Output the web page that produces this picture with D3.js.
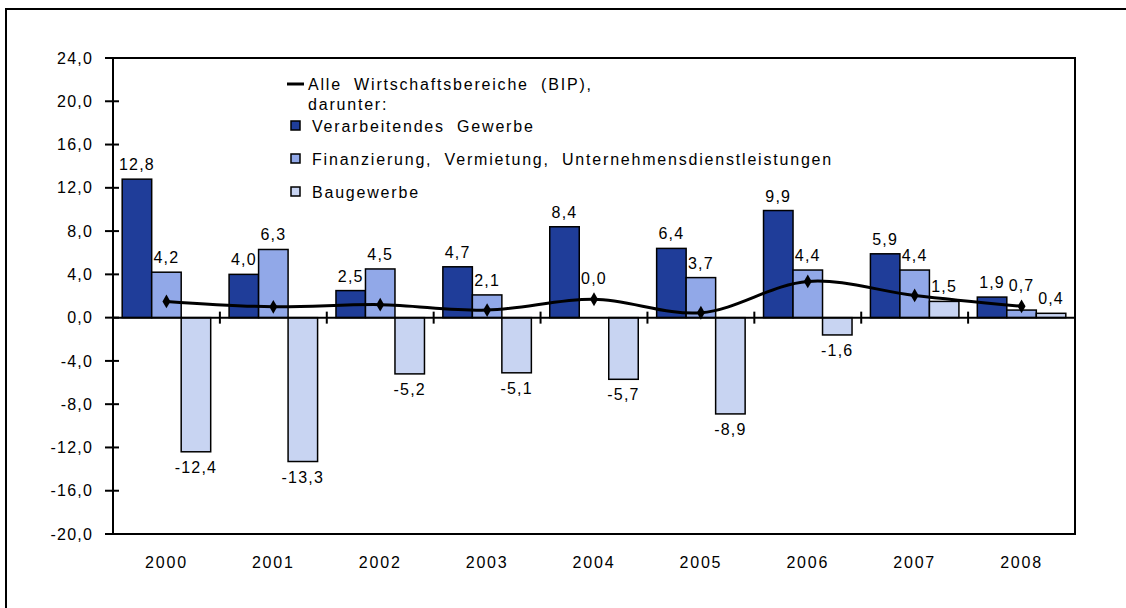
<!DOCTYPE html>
<html>
<head>
<meta charset="utf-8">
<script src="https://cdn.jsdelivr.net/npm/d3@7"></script>
<style>
  body { margin: 0; background: #fff; }
  svg { display: block; font-family: "Liberation Sans", Arial, sans-serif; }
  text { font-size: 16px; fill: #000; letter-spacing: 1.2px; }
  .legend text { letter-spacing: 1.8px; word-spacing: 6px; }
  .xlab text { letter-spacing: 1.8px; }
</style>
</head>
<body>
<svg id="chart" width="1126" height="608"></svg>
<script>
  var years = ['2000', '2001', '2002', '2003', '2004', '2005', '2006', '2007', '2008'];

  var verarbeitend = [12.8, 4.0, 2.5, 4.7, 8.4, 6.4, 9.9, 5.9, 1.9],
      finanzierung = [4.2, 6.3, 4.5, 2.1, 0.0, 3.7, 4.4, 4.4, 0.7],
      baugewerbe = [-12.4, -13.3, -5.2, -5.1, -5.7, -8.9, -1.6, 1.5, 0.4],
      bip = [1.5, 1.0, 1.2, 0.7, 1.7, 0.45, 3.35, 2.05, 1.05];

  var yTicks = [24, 20, 16, 12, 8, 4, 0, -4, -8, -12, -16, -20];

  var seriesNames = ['Verarbeitendes Gewerbe',
                     'Finanzierung, Vermietung, Unternehmensdienstleistungen',
                     'Baugewerbe'],
      seriesColors = ['#1f3d99', '#91a8e8', '#c8d4f2'];

  var svg = d3.select('#chart'),
      plotLeft = 113, plotRight = 1075, plotTop = 58, plotBottom = 534;

  var locale = d3.formatLocale({ decimal: ',', thousands: '.', grouping: [3], currency: ['', ' €'], minus: '-' }),
      fmt = locale.format('.1f');

  // outer frame (runs off the right and bottom edge)
  svg.append('rect')
    .attr('x', 6).attr('y', 9).attr('width', 1300).attr('height', 800)
    .attr('fill', 'none').attr('stroke', '#000').attr('stroke-width', 2);

  var x = d3.scaleBand().domain(years).range([plotLeft, plotRight]),
      y = d3.scaleLinear().domain([-20, 24]).range([plotBottom, plotTop]),
      cx = function(i) { return x(years[i]) + x.bandwidth() / 2; };

  // plot area border
  svg.append('rect')
    .attr('x', plotLeft).attr('y', plotTop)
    .attr('width', plotRight - plotLeft).attr('height', plotBottom - plotTop)
    .attr('fill', 'none').attr('stroke', '#000').attr('stroke-width', 2);

  // y axis ticks + labels
  var yg = svg.append('g');
  yg.selectAll('line').data(yTicks).enter().append('line')
    .attr('x1', plotLeft - 8).attr('x2', plotLeft + 6)
    .attr('y1', function(d) { return y(d); }).attr('y2', function(d) { return y(d); })
    .attr('stroke', '#000').attr('stroke-width', 2);
  yg.selectAll('text').data(yTicks).enter().append('text')
    .attr('x', plotLeft - 20).attr('y', function(d) { return y(d); })
    .attr('dy', '0.35em').attr('text-anchor', 'end')
    .text(fmt);

  // bars
  var series = [verarbeitend, finanzierung, baugewerbe];
  var barW = 29.5;
  series.forEach(function(vals, si) {
    var g = svg.append('g');
    g.selectAll('rect').data(vals).enter().append('rect')
      .attr('x', function(d, i) { return cx(i) + (si - 1.5) * barW; })
      .attr('y', function(d) { return y(Math.max(0, d)); })
      .attr('width', barW)
      .attr('height', function(d) { return Math.abs(y(d) - y(0)); })
      .attr('fill', seriesColors[si]).attr('stroke', '#000').attr('stroke-width', 1.5);

    g.selectAll('text').data(vals).enter().append('text')
      .attr('x', function(d, i) { return cx(i) + (si - 1) * barW; })
      .attr('y', function(d, i) {
        if (d < 0) return y(d) + 21;
        var ly = y(d) - 9;
        // middle bar sits under the line marker: keep its label clear of it
        if (si === 1) ly = Math.min(ly, y(bip[i]) - 15);
        return ly;
      })
      .attr('text-anchor', 'middle')
      .text(fmt);
  });

  // zero line with category ticks
  svg.append('line')
    .attr('x1', plotLeft).attr('x2', plotRight).attr('y1', y(0)).attr('y2', y(0))
    .attr('stroke', '#000').attr('stroke-width', 2);
  svg.append('g').selectAll('line').data(years.slice(1)).enter().append('line')
    .attr('x1', function(d) { return x(d); }).attr('x2', function(d) { return x(d); })
    .attr('y1', y(0) - 6).attr('y2', y(0) + 6)
    .attr('stroke', '#000').attr('stroke-width', 2);

  // x labels
  svg.append('g').attr('class', 'xlab').selectAll('text').data(years).enter().append('text')
    .attr('x', function(d, i) { return cx(i); })
    .attr('y', plotBottom + 28)
    .attr('dy', '0.35em').attr('text-anchor', 'middle')
    .text(function(d) { return d; });

  // BIP line
  var line = d3.line()
    .x(function(d, i) { return cx(i); })
    .y(function(d) { return y(d); })
    .curve(d3.curveCatmullRom.alpha(0.5));
  svg.append('path').datum(bip)
    .attr('d', line).attr('fill', 'none').attr('stroke', '#000').attr('stroke-width', 3);
  svg.append('g').selectAll('path').data(bip).enter().append('path')
    .attr('d', d3.symbol(d3.symbolDiamond, 55))
    .attr('transform', function(d, i) { return 'translate(' + cx(i) + ',' + y(d) + ')'; })
    .attr('fill', '#000');

  // legend
  var lg = svg.append('g').attr('class', 'legend');
  lg.append('line').attr('x1', 287).attr('x2', 304).attr('y1', 84).attr('y2', 84)
    .attr('stroke', '#000').attr('stroke-width', 3);
  lg.append('text').attr('x', 308).attr('y', 84).attr('dy', '0.35em')
    .text('Alle Wirtschaftsbereiche (BIP),');
  lg.append('text').attr('x', 308).attr('y', 104).attr('dy', '0.35em').text('darunter:');
  var legendY = [126, 159, 192];
  seriesNames.forEach(function(name, i) {
    lg.append('rect').attr('x', 291).attr('y', legendY[i] - 5).attr('width', 9).attr('height', 9)
      .attr('fill', seriesColors[i]).attr('stroke', '#000').attr('stroke-width', 1.5);
    lg.append('text').attr('x', 312).attr('y', legendY[i]).attr('dy', '0.35em').text(name);
  });
</script>
</body>
</html>
